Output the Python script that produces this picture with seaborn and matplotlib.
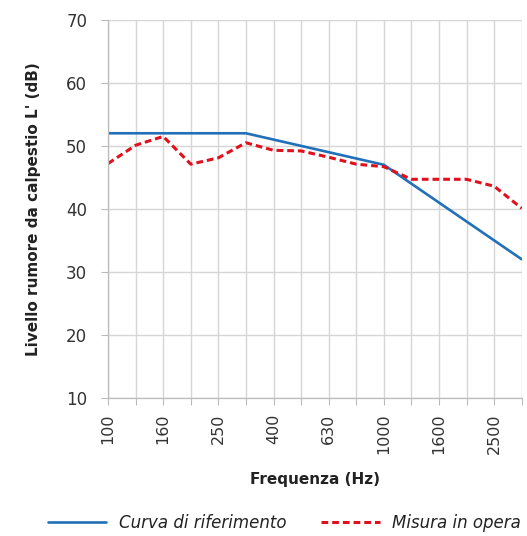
import matplotlib
matplotlib.use("Agg")
import matplotlib.pyplot as plt
import seaborn as sns
import pandas as pd

freqs = ["100", "125", "160", "200", "250", "315", "400", "500", "630",
         "800", "1000", "1250", "1600", "2000", "2500", "3150"]
riferimento = [52, 52, 52, 52, 52, 52, 51, 50, 49, 48, 47, 44, 41, 38, 35, 32]
misura = [47.2, 50.1, 51.5, 47.1, 48.1, 50.5, 49.3, 49.2, 48.2, 47.1, 46.7,
          44.7, 44.7, 44.7, 43.6, 40.1]
y_ticks = [10, 20, 30, 40, 50, 60, 70]

sns.set_theme(style="whitegrid")
plt.rcParams["font.family"] = ["DejaVu Sans"]

fig = plt.figure(figsize=(5.27, 5.36), dpi=100)
ax = fig.add_axes([0.205, 0.2575, 0.785, 0.7055])

df = pd.DataFrame({"freq": freqs, "rif": riferimento, "mis": misura})
df["pos"] = range(len(freqs))

sns.lineplot(data=df, x="pos", y="rif", ax=ax, color="#2170b8", linewidth=1.9,
             label="Curva di riferimento")
sns.lineplot(data=df, x="pos", y="mis", ax=ax, color="#e0101c", linewidth=2.2,
             label="Misura in opera", dashes=False, linestyle=(0, (2.2, 1.3)))

ax.set_xlim(0, len(freqs) - 1)
ax.set_ylim(10, 70)
ax.set_yticks(y_ticks)
ax.set_xticks(range(len(freqs)))
ax.set_xticklabels([f if i % 2 == 0 else "" for i, f in enumerate(freqs)],
                   rotation=90, fontsize=11.5, color="#333333")
ax.tick_params(axis="y", labelsize=12, labelcolor="#333333", pad=10)
ax.tick_params(axis="x", pad=6)
ax.tick_params(axis="both", length=5, color="#bbbbbb", width=0.8, direction="out",
               bottom=True, left=True)
ax.grid(True, color="#d6d6d6", linewidth=1.0)
for s in ["top", "right"]:
    ax.spines[s].set_visible(False)
for s in ["left", "bottom"]:
    ax.spines[s].set_color("#bbbbbb")
    ax.spines[s].set_linewidth(0.9)

ax.set_xlabel("Frequenza (Hz)", fontsize=11, fontweight="bold", color="#222222", labelpad=13)
ax.set_ylabel("Livello rumore da calpestio L' (dB)", fontsize=11, fontweight="bold",
              color="#222222", labelpad=18)

handles, labels = ax.get_legend_handles_labels()
ax.get_legend().remove()
leg = fig.legend(handles, labels, loc="center", bbox_to_anchor=(0.54, 0.024), ncol=2,
                 frameon=False, handlelength=3.5, columnspacing=2.1, handletextpad=0.75,
                 prop={"style": "italic", "size": 12})
for t in leg.get_texts():
    t.set_color("#222222")

fig.savefig("out.png", dpi=100)
